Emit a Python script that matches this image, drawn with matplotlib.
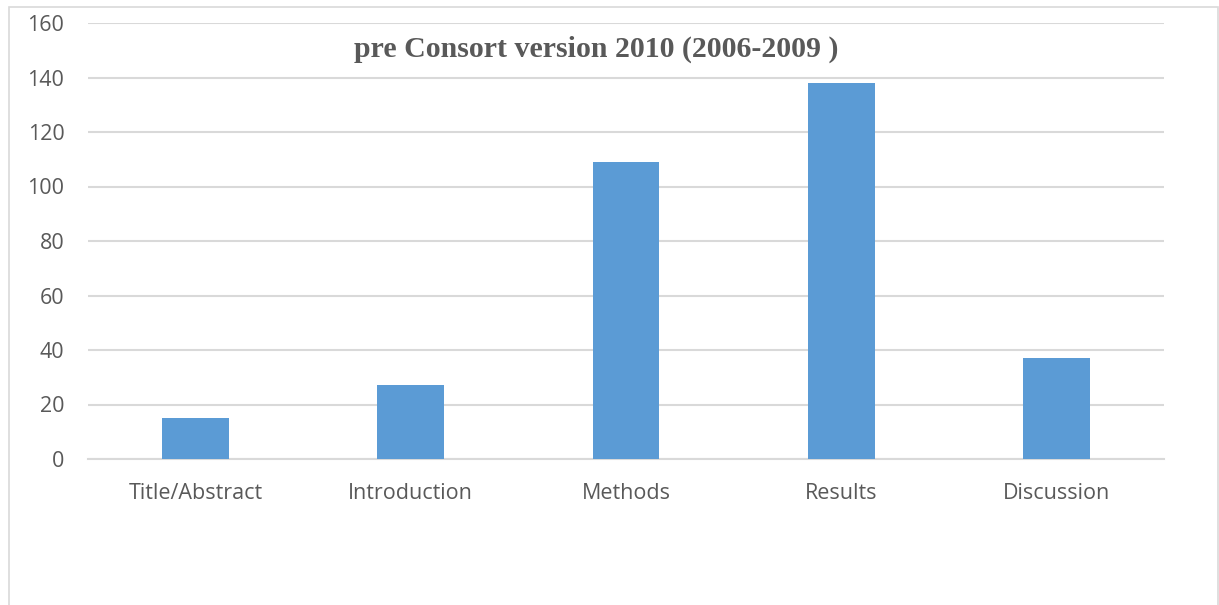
import matplotlib
matplotlib.use("Agg")
import matplotlib.pyplot as plt
from matplotlib.patches import Rectangle

categories = ["Title/Abstract", "Introduction", "Methods", "Results", "Discussion"]
values = [15, 27, 109, 138, 37]
yticks = [0, 20, 40, 60, 80, 100, 120, 140, 160]
title = "pre Consort version 2010 (2006-2009 )"

W, H = 1219, 605
fig = plt.figure(figsize=(W / 100, H / 100), dpi=100)
fig.patch.set_facecolor("white")

# outer chart border
fig.add_artist(Rectangle((8.5 / W, -0.01), (1218 - 8.5) / W, 1 - 7.5 / H + 0.01,
                         transform=fig.transFigure, fill=False,
                         edgecolor="#d9d9d9", linewidth=1.2))

ax = fig.add_axes([88 / W, (H - 459) / H, (1164 - 88) / W, (459 - 23) / H])
x = list(range(len(categories)))
ax.bar(x, values, width=0.31, color="#5b9bd5", zorder=3)
ax.set_xlim(-0.5, len(categories) - 0.5)
ax.set_ylim(0, 160)
ax.set_yticks(yticks)
ax.set_xticks(x)
ax.set_xticklabels(categories)
ax.grid(axis="y", color="#d9d9d9", linewidth=1.5, zorder=0)
for s in ["top", "right", "left"]:
    ax.spines[s].set_visible(False)
ax.spines["bottom"].set_color("#d9d9d9")
ax.spines["bottom"].set_linewidth(1.5)
ax.tick_params(axis="both", length=0, labelsize=15.5, colors="#595959")
ax.tick_params(axis="y", pad=17)
ax.tick_params(axis="x", pad=17)
for lab in ax.get_xticklabels() + ax.get_yticklabels():
    lab.set_fontfamily("Open Sans")
    lab.set_color("#595959")

fig.text(596 / W, 1 - 49 / H, title, ha="center", va="center",
         fontsize=21.5, fontweight="bold", family="Liberation Serif", color="#595959")

fig.savefig("out.png", dpi=100, facecolor="white")
